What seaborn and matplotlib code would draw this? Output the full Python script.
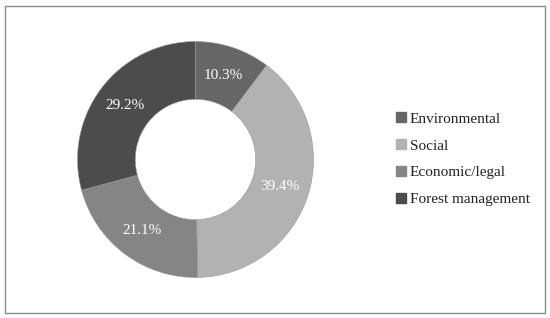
import seaborn as sns
import matplotlib.pyplot as plt
from matplotlib.patches import Rectangle
from matplotlib.lines import Line2D

categories = ["Environmental", "Social", "Economic/legal", "Forest management"]
shares = [10.3, 39.4, 21.1, 29.2]
colors = ["#666666", "#b2b2b2", "#858585", "#4c4c4c"]

sns.set_theme(style="white")
plt.rcParams['font.family'] = ['Liberation Serif', 'DejaVu Serif']

fig = plt.figure(figsize=(5.5, 3.18), dpi=100)

# outer frame
fig.patches.append(Rectangle((5 / 550, 5 / 318), 540 / 550, 307 / 318, transform=fig.transFigure,
                             fill=False, edgecolor="#8c8c8c", linewidth=1.0))

ax = fig.add_axes([77.5 / 550, 40.5 / 318, 236 / 550, 236 / 318])
wedges, texts, autotexts = ax.pie(shares, colors=colors, startangle=90, counterclock=False,
                                  autopct=lambda p: f"{p:.1f}%", pctdistance=0.75,
                                  wedgeprops=dict(width=0.49, edgecolor="#9a9a9a", linewidth=0.4),
                                  textprops=dict(color="white", fontsize=11))
ax.set_xlim(-1, 1)
ax.set_ylim(-1, 1)
ax.set_aspect("equal")

handles = [Line2D([0], [0], marker="s", linestyle="", markersize=6.5, markerfacecolor=c,
                  markeredgecolor=c) for c in colors]
fig.legend(handles, categories, loc="center left", bbox_to_anchor=(383 / 550, 0.50),
           frameon=False, fontsize=11, handlelength=0.6, handletextpad=0.25, labelspacing=0.85,
           labelcolor="#222222")

fig.savefig("out.png", dpi=100)
